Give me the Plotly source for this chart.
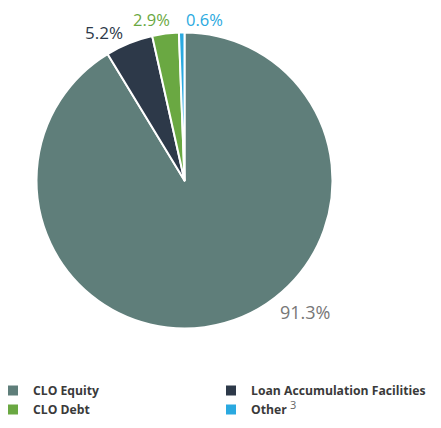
import math
import plotly.graph_objects as go

categories = ["CLO Equity", "Loan Accumulation Facilities", "CLO Debt",
              "Other <sup><span style='font-weight:normal;font-size:11px;fill:#666666'>3</span></sup>"]
values = [91.3, 5.2, 2.9, 0.6]
value_labels = ["91.3%", "5.2%", "2.9%", "0.6%"]

slice_colors = ["#5f7e7a", "#2d3949", "#6aa842", "#2aa9e0"]
label_colors = ["#777777", "#2d3949", "#6aa842", "#2aa9e0"]
label_sizes = [18, 17, 16.5, 16.5]

# label placement style (degrees nudge from slice middle, radius in px)
label_angle_nudge = [-26.9, -6.5, -4.3, 8.2]
label_radius_px = [178, 168, 164, 162]

# page body has an 8px margin; figure is sized to fit the window
W, H = 433, 420
MB = 70                 # bottom margin holding the legend
PW, PH = W, H - MB      # plot area size in px
CX, CY, R = 176.5, 172.5, 148   # pie centre / radius in figure px
dom_x = [(CX - R) / PW, (CX + R) / PW]
dom_y = [1 - (CY + R) / PH, 1 - (CY - R) / PH]

fig = go.Figure(go.Pie(
    labels=categories,
    values=values,
    sort=False,
    direction="clockwise",
    rotation=0,
    marker=dict(colors=slice_colors, line=dict(color="white", width=2)),
    textinfo="none",
    hoverinfo="label+value",
    domain=dict(x=dom_x, y=dom_y),
    automargin=False,
))

# outside value labels, placed around each slice's middle angle
cx = (dom_x[0] + dom_x[1]) / 2
cy = (dom_y[0] + dom_y[1]) / 2
total = sum(values)
start = 0.0
for v, txt, col, sz, nudge, rad in zip(values, value_labels, label_colors, label_sizes,
                                       label_angle_nudge, label_radius_px):
    mid = start + v / total * 360 / 2
    start += v / total * 360
    ang = math.radians(mid + nudge)
    fig.add_annotation(
        x=cx + rad * math.sin(ang) / PW,
        y=cy + rad * math.cos(ang) / PH,
        xref="paper", yref="paper",
        text=txt, showarrow=False,
        font=dict(family="Open Sans", size=sz, color=col),
        xanchor="center", yanchor="middle",
    )

fig.update_layout(
    width=W, height=H,
    margin=dict(l=0, r=0, t=0, b=MB, pad=0, autoexpand=False),
    paper_bgcolor="white",
    plot_bgcolor="white",
    showlegend=True,
    legend=dict(
        orientation="h",
        x=-15 / PW, y=-18 / PH, xanchor="left", yanchor="top",
        entrywidth=173, entrywidthmode="pixels",
        font=dict(family="Open Sans", size=12.2, color="#3a3a3a", weight="bold"),
        itemclick=False,
    ),
)

fig.write_html("out.html")
